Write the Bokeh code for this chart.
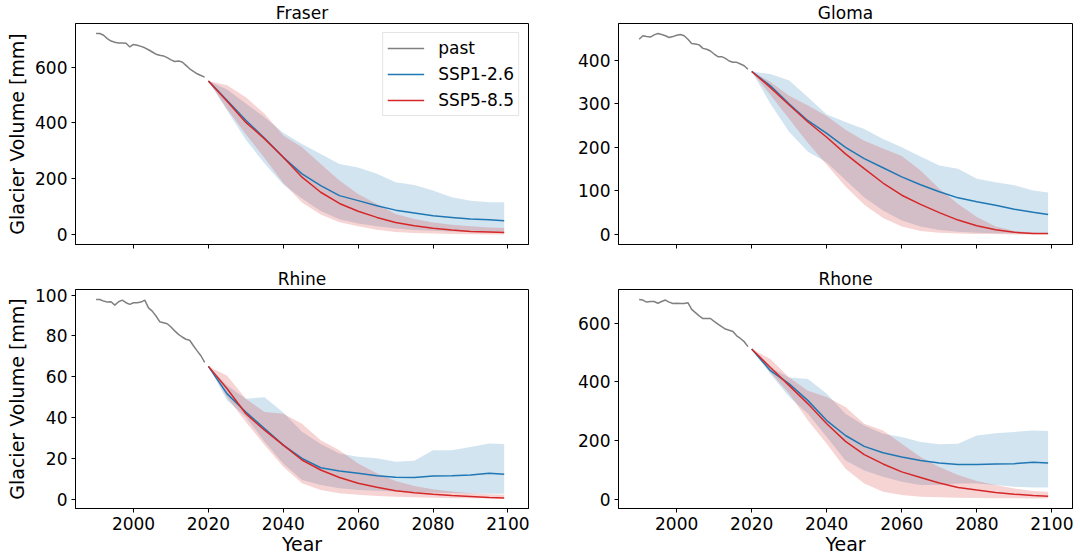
from bokeh.plotting import figure
from bokeh.layouts import column, row
from bokeh.models import Range1d, FixedTicker, Legend, LegendItem
from bokeh.embed import file_html
from bokeh.resources import INLINE

# ---------------- data ----------------
past_years = list(range(1990, 2020))
future_years = [2020, 2025, 2030, 2035, 2040, 2045, 2050, 2055, 2060,
                2065, 2070, 2075, 2080, 2085, 2090, 2095, 2099]
x_ticks = [2000, 2020, 2040, 2060, 2080, 2100]

# Fraser
fraser_past = [720, 720, 714, 702, 693, 689, 686, 686, 685, 672, 681, 678, 674, 669, 662,
               654, 646, 642, 640, 634, 626, 620, 622, 618, 606, 594, 585, 576, 570, 564]
fraser_ssp126_med = [550, 480, 410, 345, 277, 218, 176, 140, 122, 104, 88, 78, 68, 62, 56, 54, 50]
fraser_ssp126_lo = [550, 445, 340, 255, 180, 130, 85, 55, 40, 30, 22, 17, 14, 12, 10, 9, 8]
fraser_ssp126_hi = [550, 520, 470, 420, 365, 325, 289, 253, 241, 218, 188, 178, 158, 134, 122, 116, 116]
fraser_ssp585_med = [550, 478, 402, 343, 277, 206, 152, 112, 84, 62, 44, 32, 23, 17, 12, 10, 8]
fraser_ssp585_lo = [550, 450, 360, 275, 185, 115, 72, 45, 30, 18, 10, 6, 4, 3, 2, 1, 1]
fraser_ssp585_hi = [550, 535, 492, 433, 355, 313, 253, 194, 146, 110, 74, 56, 44, 36, 30, 26, 24]

# Gloma
gloma_past = [448, 456, 454, 453, 458, 461, 459, 456, 452, 454, 457, 459, 456, 448, 438,
              437, 435, 427, 425, 421, 414, 408, 408, 404, 398, 395, 395, 391, 387, 379]
gloma_ssp126_med = [374, 341, 299, 261, 232, 200, 174, 153, 132, 114, 98, 84, 75, 67, 58, 51, 46]
gloma_ssp126_lo = [374, 300, 235, 190, 165, 125, 85, 55, 32, 18, 10, 6, 4, 3, 2, 2, 2]
gloma_ssp126_hi = [374, 368, 353, 315, 275, 258, 242, 219, 200, 179, 158, 151, 128, 120, 113, 101, 96]
gloma_ssp585_med = [374, 337, 297, 258, 223, 185, 151, 118, 90, 69, 50, 33, 20, 11, 5, 2, 2]
gloma_ssp585_lo = [374, 320, 265, 210, 160, 110, 68, 38, 18, 8, 4, 2, 1, 1, 0, 0, 0]
gloma_ssp585_hi = [374, 350, 318, 296, 272, 240, 215, 197, 180, 147, 105, 70, 40, 18, 8, 4, 2]

# Rhine
rhine_past = [97.9, 97.9, 97.1, 96.6, 96.8, 95.1, 96.8, 97.6, 96.3, 95.5, 96.3, 96.3, 96.6, 97.6, 93.8,
              92.2, 89.8, 87.0, 86.5, 86.0, 84.4, 82.5, 80.8, 79.5, 78.4, 77.9, 75.2, 72.7, 70.3, 67.0]
rhine_ssp126_med = [65.1, 51.6, 42.7, 34.6, 26.5, 20.0, 15.4, 13.8, 12.7, 11.5, 10.7, 10.6, 11.4, 11.5, 11.9, 12.7, 12.2]
rhine_ssp126_lo = [65.1, 48.4, 40.3, 28.1, 17.5, 9.4, 7.0, 5.4, 4.5, 4.1, 3.7, 3.4, 3.2, 3.0, 2.8, 2.6, 2.6]
rhine_ssp126_hi = [65.1, 55.7, 49.2, 50.0, 42.5, 33.0, 27.0, 22.4, 20.8, 20.0, 18.3, 18.8, 24.0, 24.0, 25.6, 27.3, 27.0]
rhine_ssp585_med = [65.1, 54.1, 41.9, 33.8, 26.5, 19.2, 14.3, 10.6, 7.8, 5.8, 4.1, 3.2, 2.4, 1.8, 1.3, 0.8, 0.6]
rhine_ssp585_lo = [65.1, 50.0, 37.8, 26.5, 15.9, 7.8, 4.5, 2.9, 2.1, 1.6, 1.2, 0.9, 0.7, 0.5, 0.4, 0.3, 0.3]
rhine_ssp585_hi = [65.1, 60.5, 49.2, 42.7, 41.9, 37.0, 28.9, 24.0, 17.5, 12.7, 8.9, 6.5, 4.9, 3.7, 2.9, 2.4, 2.1]

# Rhone
rhone_past = [681, 679, 672, 674, 674, 668, 674, 679, 672, 667, 668, 667, 667, 670, 647,
              636, 625, 616, 616, 616, 606, 597, 588, 580, 576, 572, 557, 548, 537, 520]
rhone_ssp126_med = [512, 438, 393, 336, 268, 217, 180, 158, 144, 132, 123, 118, 118, 120, 121, 126, 123]
rhone_ssp126_lo = [512, 427, 348, 291, 212, 132, 98, 76, 59, 48, 48, 53, 53, 48, 42, 40, 40]
rhone_ssp126_hi = [512, 449, 415, 410, 359, 291, 251, 223, 212, 195, 187, 189, 217, 225, 229, 234, 232]
rhone_ssp585_med = [512, 449, 387, 325, 257, 197, 152, 120, 93, 74, 55, 40, 31, 23, 17, 12, 10]
rhone_ssp585_lo = [512, 432, 359, 268, 189, 104, 53, 25, 14, 8, 6, 5, 4, 3, 3, 2, 2]
rhone_ssp585_hi = [512, 478, 415, 370, 348, 314, 257, 234, 189, 144, 110, 82, 62, 48, 36, 28, 25]

FONT = "DejaVu Sans"
C_PAST = "#808080"
C_126 = "#1f77b4"
C_585 = "#d62728"


def panel(title, past, bm, bl, bh, rm, rl, rh, yticks, ylabel, show_xlabels,
          legend, width, height, b_left, b_right, b_top, b_bottom):
    allv = past + bl + bh + rl + rh + bm + rm
    lo, hi = min(allv), max(allv)
    pad = 0.05 * (hi - lo)
    p = figure(width=width, height=height, output_backend="svg", toolbar_location=None,
               x_range=Range1d(1984.5, 2105.5), y_range=Range1d(lo - pad, hi + pad),
               min_border_left=b_left, min_border_right=b_right,
               min_border_top=b_top, min_border_bottom=b_bottom, title=title)
    p.title.align = "center"
    p.title.text_font = FONT
    p.title.text_font_size = "17px"
    p.title.text_font_style = "normal"
    p.title.text_color = "black"
    p.title.standoff = 1
    p.background_fill_color = "white"
    p.border_fill_color = "white"
    p.outline_line_color = "black"
    p.outline_line_width = 1
    p.outline_line_alpha = 1
    p.xgrid.visible = False
    p.ygrid.visible = False

    p.varea(x=future_years, y1=bl, y2=bh, fill_color=C_126, fill_alpha=0.2)
    p.varea(x=future_years, y1=rl, y2=rh, fill_color=C_585, fill_alpha=0.2)
    r_past = p.line(past_years, past, line_color=C_PAST, line_width=1.5)
    r_126 = p.line(future_years, bm, line_color=C_126, line_width=1.5)
    r_585 = p.line(future_years, rm, line_color=C_585, line_width=1.5)

    for ax in (p.xaxis[0], p.yaxis[0]):
        ax.axis_line_color = "black"
        ax.major_tick_line_color = "black"
        ax.major_tick_out = 4
        ax.major_tick_in = 0
        ax.minor_tick_line_color = None
        ax.major_label_text_font = FONT
        ax.major_label_text_font_size = "17px"
        ax.major_label_text_color = "black"
        ax.axis_label_text_font = FONT
        ax.axis_label_text_font_size = "19px"
        ax.axis_label_text_font_style = "normal"
        ax.axis_label_text_color = "black"
        ax.major_label_standoff = 4
        ax.axis_label_standoff = 4
    p.xaxis.ticker = FixedTicker(ticks=x_ticks)
    p.yaxis.ticker = FixedTicker(ticks=yticks)
    if ylabel:
        p.yaxis.axis_label = ylabel
    if show_xlabels:
        p.xaxis.axis_label = "Year"
        p.xaxis.axis_label_standoff = 0
    else:
        # shared x axis: tick marks only, labels not drawn
        p.xaxis.major_label_text_font_size = "0px"
        p.xaxis.major_label_text_color = None
        p.xaxis.major_label_standoff = 0

    if legend:
        leg = Legend(items=[LegendItem(label="past", renderers=[r_past]),
                            LegendItem(label="SSP1-2.6", renderers=[r_126]),
                            LegendItem(label="SSP5-8.5", renderers=[r_585])],
                     location="top_right")
        leg.margin = 9
        leg.padding = 4
        leg.spacing = 4
        leg.glyph_width = 37
        leg.glyph_height = 22
        leg.label_height = 22
        leg.label_standoff = 14
        leg.label_text_font = FONT
        leg.label_text_font_size = "17px"
        leg.label_text_color = "black"
        leg.border_line_color = "#cccccc"
        leg.border_line_width = 1
        leg.background_fill_color = "white"
        leg.background_fill_alpha = 0.8
        p.add_layout(leg)
    return p


ytk_big = [0, 200, 400, 600]
p1 = panel("Fraser", fraser_past, fraser_ssp126_med, fraser_ssp126_lo, fraser_ssp126_hi,
           fraser_ssp585_med, fraser_ssp585_lo, fraser_ssp585_hi, ytk_big,
           "Glacier Volume [mm]", False, True, 540, 265, 75, 12, 23, 21)
p2 = panel("Gloma", gloma_past, gloma_ssp126_med, gloma_ssp126_lo, gloma_ssp126_hi,
           gloma_ssp585_med, gloma_ssp585_lo, gloma_ssp585_hi, [0, 100, 200, 300, 400],
           None, False, False, 540, 265, 78, 8, 23, 21)
p3 = panel("Rhine", rhine_past, rhine_ssp126_med, rhine_ssp126_lo, rhine_ssp126_hi,
           rhine_ssp585_med, rhine_ssp585_lo, rhine_ssp585_hi, [0, 20, 40, 60, 80, 100],
           "Glacier Volume [mm]", True, False, 540, 292, 75, 12, 24, 48)
p4 = panel("Rhone", rhone_past, rhone_ssp126_med, rhone_ssp126_lo, rhone_ssp126_hi,
           rhone_ssp585_med, rhone_ssp585_lo, rhone_ssp585_hi, ytk_big,
           None, True, False, 540, 292, 78, 8, 24, 48)

layout = column(row(p1, p2), row(p3, p4))
open("out.html", "w").write(file_html(layout, INLINE))
